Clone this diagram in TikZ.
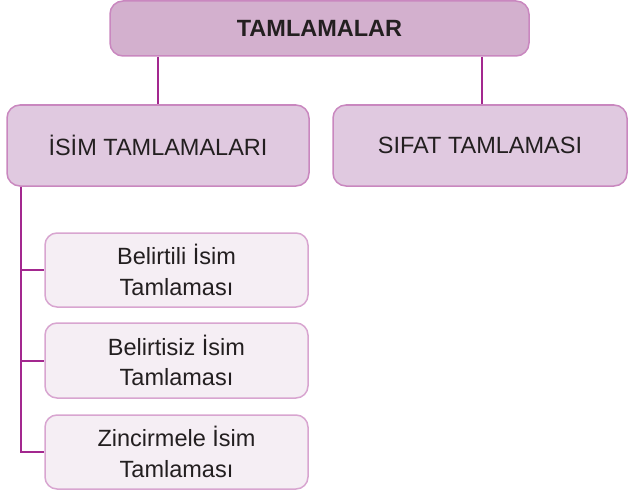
\documentclass[tikz,border=0pt]{standalone}
\usepackage{fontspec}
\setmainfont{Liberation Sans}
\usetikzlibrary{calc}
\definecolor{topfill}{HTML}{D3B0CE}
\definecolor{midfill}{HTML}{E0C9E0}
\definecolor{subfill}{HTML}{F5EEF4}
\definecolor{boxborder}{HTML}{C987BF}
\definecolor{subborder}{HTML}{D8A5D0}
\definecolor{linkcol}{HTML}{A3288F}
\definecolor{txt}{HTML}{231F20}
\tikzset{
  x=1pt,y=1pt,
  basebox/.style={draw, rounded corners=13pt, line width=1.5pt, inner sep=0pt, align=center, text=txt,
    font=\fontsize{23.5}{30.7}\selectfont},
  topbox/.style={basebox, fill=topfill, draw=boxborder, minimum width=419pt, minimum height=55pt, font=\fontsize{23.5}{30.7}\selectfont\bfseries},
  midbox/.style={basebox, fill=midfill, draw=boxborder, minimum height=81pt},
  subbox/.style={basebox, fill=subfill, draw=subborder, minimum width=263pt, minimum height=74pt, rounded corners=12pt},
  link/.style={draw=linkcol, line width=2pt}
}
\begin{document}
\begin{tikzpicture}
\useasboundingbox (0,0) rectangle (628,-492);
\node[topbox] (top) at (319.5,-28.5) {TAMLAMALAR};
\node[midbox, minimum width=302pt] (isim) at (158,-145.5) {İSİM TAMLAMALARI};
\node[midbox, minimum width=294pt] (sifat) at (480,-145.5) {SIFAT TAMLAMASI};
\node[subbox] (s1) at (176.5,-270) {Belirtili İsim\\Tamlaması};
\node[subbox, minimum height=75pt] (s2) at (176.5,-360.5) {Belirtisiz İsim\\Tamlaması};
\node[subbox] (s3) at (176.5,-452) {Zincirmele İsim\\Tamlaması};
\coordinate (spinetop) at ($(isim.south west)+(15,0)$);
\coordinate (spinebot) at (spinetop |- s3.west);
\draw[link] (top.south -| isim.north) -- (isim.north);
\draw[link] ($(top.south -| sifat.north)+(2,0)$) -- ($(sifat.north)+(2,0)$);
\draw[link] (spinetop) -- (spinebot) -- (s3.west);
\draw[link] (spinetop |- s1.west) -- (s1.west);
\draw[link] (spinetop |- s2.west) -- (s2.west);
\end{tikzpicture}
\end{document}
